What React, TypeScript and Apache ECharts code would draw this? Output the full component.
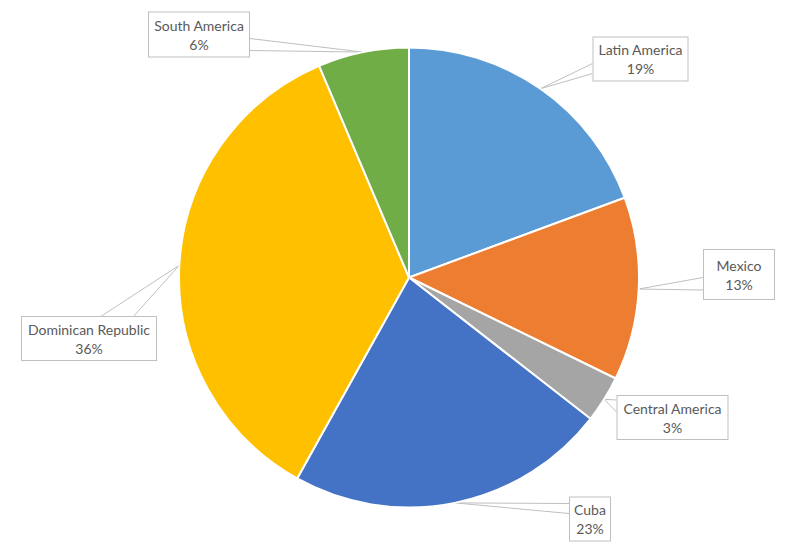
import React, { useEffect, useRef } from "react";
import * as echarts from "echarts";

const categories = ["Latin America", "Mexico", "Central America", "Cuba", "Dominican Republic", "South America"];
const values = [19.4, 12.9, 3.3, 22.6, 35.6, 6.4];
const colors = ["#5B9BD5", "#ED7D31", "#A5A5A5", "#4472C4", "#FFC000", "#70AD47"];

// Callout box layout (centre, size, side of the wedge base, offsets along that side)
const labelBoxes = [
  { cx: 640.5, cy: 59, w: 96, h: 43, side: "left", p: [26, 36] },
  { cx: 739, cy: 274.5, w: 72, h: 49, side: "left", p: [27.5, 40] },
  { cx: 672.5, cy: 417.5, w: 112, h: 43, side: "left", p: [4, 16] },
  { cx: 590, cy: 519, w: 42, h: 43, side: "left", p: [6, 16] },
  { cx: 89, cy: 338.5, w: 136, h: 43, side: "top", p: [79, 112] },
  { cx: 199, cy: 34.5, w: 102, h: 44, side: "right", p: [26, 38] },
];

const LINE_H = 19;

export default function App() {
  const ref = useRef<HTMLDivElement>(null);
  useEffect(() => {
    if (!ref.current) return;
    const chart = echarts.init(ref.current, null, { renderer: "svg" });
    const data = categories.map((name, i) => ({
      name,
      value: values[i],
      itemStyle: { color: colors[i] },
      label: {
        width: labelBoxes[i].w - 2,
        padding: [(labelBoxes[i].h - 2 * LINE_H) / 2, 0],
      },
    }));
    chart.setOption({
      animation: false,
      backgroundColor: "#ffffff",
      series: [
        {
          type: "pie",
          center: [409, 277.5],
          radius: 230,
          startAngle: 90,
          clockwise: true,
          avoidLabelOverlap: false,
          percentPrecision: 0,
          emphasis: { disabled: true },
          itemStyle: { borderColor: "#ffffff", borderWidth: 2 },
          label: {
            show: true,
            position: "outside",
            formatter: "{b}\n{d}%",
            color: "#595959",
            fontFamily: "Lato",
            fontSize: 14,
            lineHeight: LINE_H,
            align: "center",
            backgroundColor: "#ffffff",
            borderColor: "#BFBFBF",
            borderWidth: 1,
          },
          labelLine: {
            show: true,
            length: 10,
            length2: 10,
            lineStyle: { color: "#BFBFBF", width: 1 },
          },
          labelLayout: (params: any) => {
            const b = labelBoxes[params.dataIndex];
            const left = b.cx - b.w / 2;
            const top = b.cy - b.h / 2;
            let p1: number[], p2: number[];
            if (b.side === "left") {
              p1 = [left, top + b.p[0]];
              p2 = [left, top + b.p[1]];
            } else if (b.side === "right") {
              p1 = [left + b.w, top + b.p[0]];
              p2 = [left + b.w, top + b.p[1]];
            } else {
              p1 = [left + b.p[0], top];
              p2 = [left + b.p[1], top];
            }
            const anchor = params.labelLinePoints ? params.labelLinePoints[0] : [b.cx, b.cy];
            return {
              x: b.cx,
              y: b.cy,
              align: "center",
              verticalAlign: "middle",
              labelLinePoints: [p1, anchor, p2],
            };
          },
          data,
        },
      ],
    });
    return () => chart.dispose();
  }, []);
  return (
    <div
      ref={ref}
      style={{ position: "fixed", left: 0, top: 0, width: 796, height: 555 }}
    />
  );
}
